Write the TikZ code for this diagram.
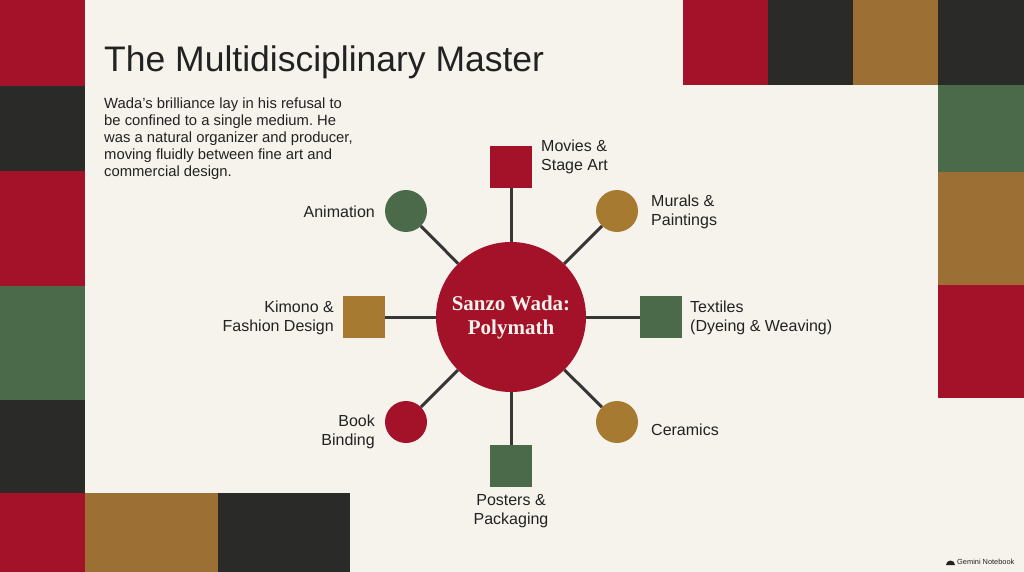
\documentclass[tikz,border=0pt]{standalone}
\usepackage{fontspec}
\setmainfont{Liberation Sans}
\newfontfamily\hubfont{Liberation Serif}
\frenchspacing
\definecolor{paper}{HTML}{F6F3EC}
\definecolor{wred}{HTML}{A31228}
\definecolor{wblack}{HTML}{2A2A28}
\definecolor{wbrown}{HTML}{9C7034}
\definecolor{wgreen}{HTML}{4B6A4A}
\definecolor{cbrown}{HTML}{A77A31}
\definecolor{ink}{HTML}{222222}
\definecolor{linkc}{HTML}{363636}
\tikzset{
  hub/.style={circle, fill=wred, minimum size=150pt, inner sep=0pt, text=paper, align=center,
    font=\hubfont\bfseries\fontsize{21}{24}\selectfont},
  sqnode/.style={rectangle, minimum size=42pt, inner sep=0pt},
  cnode/.style={circle, minimum size=42pt, inner sep=0pt},
  link/.style={draw=linkc, line width=3pt},
  lbl/.style={text=ink, inner sep=0pt, font=\fontsize{16}{19.5}\selectfont},
}
\begin{document}
\begin{tikzpicture}[x=1pt,y=-1pt]
\useasboundingbox (0,0) rectangle (1024,572);
\fill[paper] (0,0) rectangle (1024,572);
% left column
\fill[wred] (0,0) rectangle (85,86);
\fill[wblack] (0,86) rectangle (85,171);
\fill[wred] (0,171) rectangle (85,286);
\fill[wgreen] (0,286) rectangle (85,400);
\fill[wblack] (0,400) rectangle (85,493);
\fill[wred] (0,493) rectangle (85,572);
% bottom row
\fill[wbrown] (85,493) rectangle (218,572);
\fill[wblack] (218,493) rectangle (350,572);
% top row
\fill[wred] (683,0) rectangle (768,85);
\fill[wblack] (768,0) rectangle (853,85);
\fill[wbrown] (853,0) rectangle (938,85);
\fill[wblack] (938,0) rectangle (1024,85);
% right column
\fill[wgreen] (938,85) rectangle (1024,172);
\fill[wbrown] (938,172) rectangle (1024,285);
\fill[wred] (938,285) rectangle (1024,398);

% title and text
\node[anchor=base west, inner sep=0pt, text=ink, font=\fontsize{35.5}{40}\selectfont] (title) at (104,72) {The Multidisciplinary Master};
\node[anchor=north west, inner sep=0pt, text=ink, align=left, font=\fontsize{14.8}{17}\selectfont] (intro) at (104,98)
 {Wada's brilliance lay in his refusal to\\be confined to a single medium. He\\was a natural organizer and producer,\\moving fluidly between fine art and\\commercial design.};

% hub and satellites
\node[hub] (hub) at (511,317) {Sanzo Wada:\\Polymath};
\node[sqnode, fill=wred] (mov) at (511,167) {};
\node[cnode, fill=cbrown] (mur) at (617,211) {};
\node[sqnode, fill=wgreen] (tex) at (661,317) {};
\node[cnode, fill=cbrown] (cer) at (617,422) {};
\node[sqnode, fill=wgreen] (pos) at (511,466) {};
\node[cnode, fill=wred] (boo) at (406,422) {};
\node[sqnode, fill=cbrown] (kim) at (364,317) {};
\node[cnode, fill=wgreen] (ani) at (406,211) {};

\foreach \n in {mov,mur,tex,cer,pos,boo,kim,ani}
  \draw[link] (hub) -- (\n);

% labels
\node[lbl, anchor=west, align=left] (lmov) at (541,157) {Movies \&\\Stage Art};
\node[lbl, anchor=west, align=left] (lmur) at (651,212) {Murals \&\\Paintings};
\node[lbl, anchor=west, align=left] (ltex) at (690,318) {Textiles\\(Dyeing \& Weaving)};
\node[lbl, anchor=west, align=left] (lcer) at (651,430) {Ceramics};
\node[lbl, align=center] (lpos) at (511,511) {Posters \&\\Packaging};
\node[lbl, anchor=east, align=right] (lboo) at (375,432) {Book\\Binding};
\node[lbl, anchor=east, align=right] (lkim) at (334,318) {Kimono \&\\Fashion Design};
\node[lbl, anchor=east, align=right] (lani) at (375,212) {Animation};

% footer mark
\fill[ink] (946,565) arc[start angle=180, end angle=0, radius=4.5pt] -- cycle;
\node[anchor=west, inner sep=0pt, text=ink, font=\fontsize{7.4}{8}\selectfont] (gem) at (957,562) {Gemini Notebook};
\end{tikzpicture}
\end{document}
